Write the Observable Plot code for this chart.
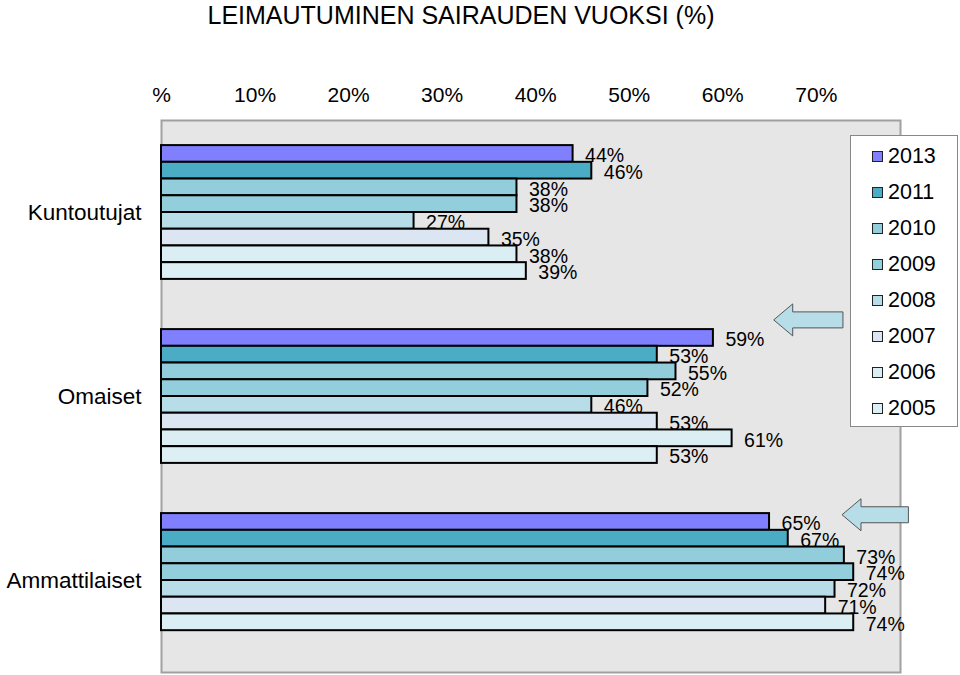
<!DOCTYPE html>
<html>
<head>
<meta charset="utf-8">
<script src="https://cdn.jsdelivr.net/npm/d3@7"></script>
<script src="https://cdn.jsdelivr.net/npm/@observablehq/plot@0.6"></script>
<style>
  html, body { margin: 0; padding: 0; background: #fff; }
  #wrap { position: relative; width: 960px; height: 675px; font-family: "Liberation Sans", Arial, sans-serif; color: #000; }
  #title { position: absolute; left: 0; top: 0; width: 922px; text-align: center; font-size: 25px; line-height: 30px; }
  #chart { position: absolute; left: 0; top: 0; }
  #legend { position: absolute; left: 850px; top: 135px; width: 106px; height: 288px; background: #fff; border: 1px solid #888; padding-top: 2px; box-sizing: content-box; }
  .row { height: 36px; display: flex; align-items: center; padding-left: 21px; font-size: 21.5px; }
  .sw { width: 9px; height: 9px; border: 1px solid #222; margin-right: 5px; }
</style>
</head>
<body>
<div id="wrap">
  <div id="chart"></div>
  <div id="title">LEIMAUTUMINEN SAIRAUDEN VUOKSI (%)</div>
  <div id="legend"></div>
</div>
<script>
// ---- data ----
const groups = ["Kuntoutujat", "Omaiset", "Ammattilaiset"];
const years = ["2013", "2011", "2010", "2009", "2008", "2007", "2006", "2005"];
const kuntoutujat = [44, 46, 38, 38, 27, 35, 38, 39];
const omaiset = [59, 53, 55, 52, 46, 53, 61, 53];
const ammattilaiset = [65, 67, 73, 74, 72, 71, 74, null];
const tickValues = [0, 10, 20, 30, 40, 50, 60, 70];
const yearColors = ["#8080FF", "#4BACC6", "#92CDDC", "#93CEDD", "#B7DEE8", "#DCE6F2", "#DAEEF3", "#DCEFF5"];

// ---- layout helpers ----
const seriesByGroup = [kuntoutujat, omaiset, ammattilaiset];
const slotsPerGroup = 11;   // 8 bars + spacing
const groupPad = 1.5;
const rows = [];
groups.forEach((g, gi) => {
  seriesByGroup[gi].forEach((v, yi) => {
    if (v == null) return;
    rows.push({group: g, year: years[yi], value: v, slot: gi * slotsPerGroup + groupPad + yi});
  });
});
const groupRows = groups.map((g, gi) => ({group: g, slot: gi * slotsPerGroup + slotsPerGroup / 2}));

// decorative arrows (annotation, in data units)
const arrows = [
  {tip: 65.5, tail: 72.9, y: 11.95},
  {tip: 72.8, tail: 79.9, y: 23.6}
];

const arrowMark = (index, scales) => {
  const g = d3.create("svg:g");
  for (const a of arrows) {
    const xt = scales.x(a.tip), xe = scales.x(a.tail), yc = scales.y(a.y);
    const hl = 19, hh = 16, sh = 8;
    g.append("path")
      .attr("d", `M${xt},${yc} L${xt + hl},${yc - hh} L${xt + hl},${yc - sh} L${xe},${yc - sh} L${xe},${yc + sh} L${xt + hl},${yc + sh} L${xt + hl},${yc + hh} Z`)
      .attr("fill", "#B7DEE8")
      .attr("stroke", "#555")
      .attr("stroke-width", 1);
  }
  return g.node();
};

const chart = Plot.plot({
  width: 960,
  height: 675,
  marginTop: 120,
  marginLeft: 161,
  marginRight: 60,
  marginBottom: 3,
  style: {fontFamily: "'Liberation Sans', Arial, sans-serif", fontSize: "21px", background: "transparent", color: "#000"},
  x: {domain: [0, 79.0], axis: "top", ticks: tickValues, tickFormat: d => d === 0 ? "%" : d + "%", tickSize: 0, tickPadding: 19, label: null},
  y: {domain: [0, 33], reverse: true, axis: null},
  color: {domain: years, range: yearColors},
  marks: [
    Plot.frame({fill: "#E6E6E6", stroke: "#A0A0A0", strokeWidth: 2}),
    Plot.rectX(rows, {x1: 0, x2: "value", y1: "slot", y2: d => d.slot + 1, fill: "year", stroke: "#000", strokeWidth: 2}),
    Plot.text(rows, {x: "value", y: d => d.slot + 0.5, text: d => d.value + "%", textAnchor: "start", dx: 12, dy: 2, fontSize: 19.5, fill: "#000"}),
    Plot.text(groupRows, {frameAnchor: "left", y: "slot", text: "group", textAnchor: "end", dx: -20, fontSize: 22.5, fill: "#000"}),
    arrowMark
  ]
});
document.getElementById("chart").appendChild(chart);

// legend
const legend = d3.select("#legend");
years.forEach((y, i) => {
  const r = legend.append("div").attr("class", "row");
  r.append("div").attr("class", "sw").style("background", yearColors[i]);
  r.append("span").text(y);
});
</script>
</body>
</html>
